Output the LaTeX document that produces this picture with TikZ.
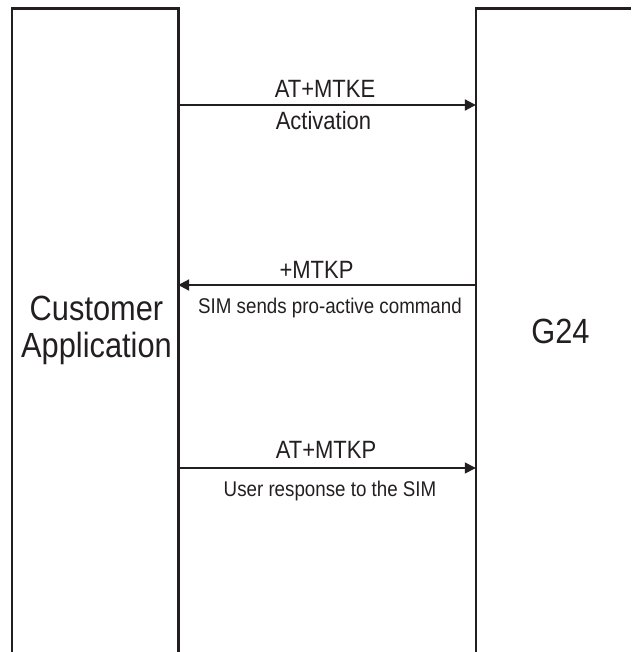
\documentclass[tikz,border=0pt]{standalone}
\usepackage{fontspec}
\setmainfont{Liberation Sans}[FakeStretch=0.88]
\usetikzlibrary{arrows.meta}
\definecolor{ink}{RGB}{35,31,32}
\begin{document}
\begin{tikzpicture}[x=1pt,y=-1pt,
  lane/.style={draw=none,inner sep=0pt,minimum width=#1},
  side/.style={draw=ink,line width=2.6pt,line join=miter},
  msg/.style={draw=ink,line width=2pt,-{Triangle[length=11pt,width=11pt]}},
  msgthin/.style={draw=ink,line width=1.4pt,-{Triangle[length=11pt,width=11pt]}},
  big/.style={text=ink,inner sep=0pt,anchor=base,font=\fontsize{35}{37}\selectfont},
  lbl/.style={text=ink,inner sep=0pt,anchor=base,font=\fontsize{25}{30}\selectfont},
  sml/.style={text=ink,inner sep=0pt,anchor=base,font=\fontsize{21.3}{25}\selectfont}]
\useasboundingbox (0,0) rectangle (631,652);
\fill[white] (0,0) rectangle (631,652);
% lanes
\node[lane=166, minimum height=643] (ca) at (95,330.5) {};
\node[lane=155, minimum height=643] (g) at (553.5,330.5) {};
\draw[side] (ca.south west) -- (ca.north west) -- (ca.north east) -- (ca.south east);
\draw[side] (g.south west) -- (g.north west) -- (g.north east);
% lane titles
\node[big] (cat1) at (96.5,320) {Customer};
\node[big] (cat2) at (96.5,357) {Application};
\node[big] (gt) at (560.5,343) {G24};
% message levels
\coordinate (y1) at (0,105);
\coordinate (y2) at (0,285);
\coordinate (y3) at (0,468);
\draw[msg] (ca.east |- y1) -- (g.west |- y1);
\draw[msg] (g.west |- y2) -- (ca.east |- y2);
\draw[msgthin] (ca.east |- y3) -- (g.west |- y3);
% labels
\node[lbl] (m1a) at (325,97.5) {AT+MTKE};
\node[lbl] (m1b) at (323.5,130) {Activation};
\node[lbl] (m2a) at (316.5,278) {+MTKP};
\node[sml] (m2b) at (330,313) {SIM sends pro-active command};
\node[lbl] (m3a) at (326,458) {AT+MTKP};
\node[sml] (m3b) at (330,496) {User response to the SIM};
\end{tikzpicture}
\end{document}
